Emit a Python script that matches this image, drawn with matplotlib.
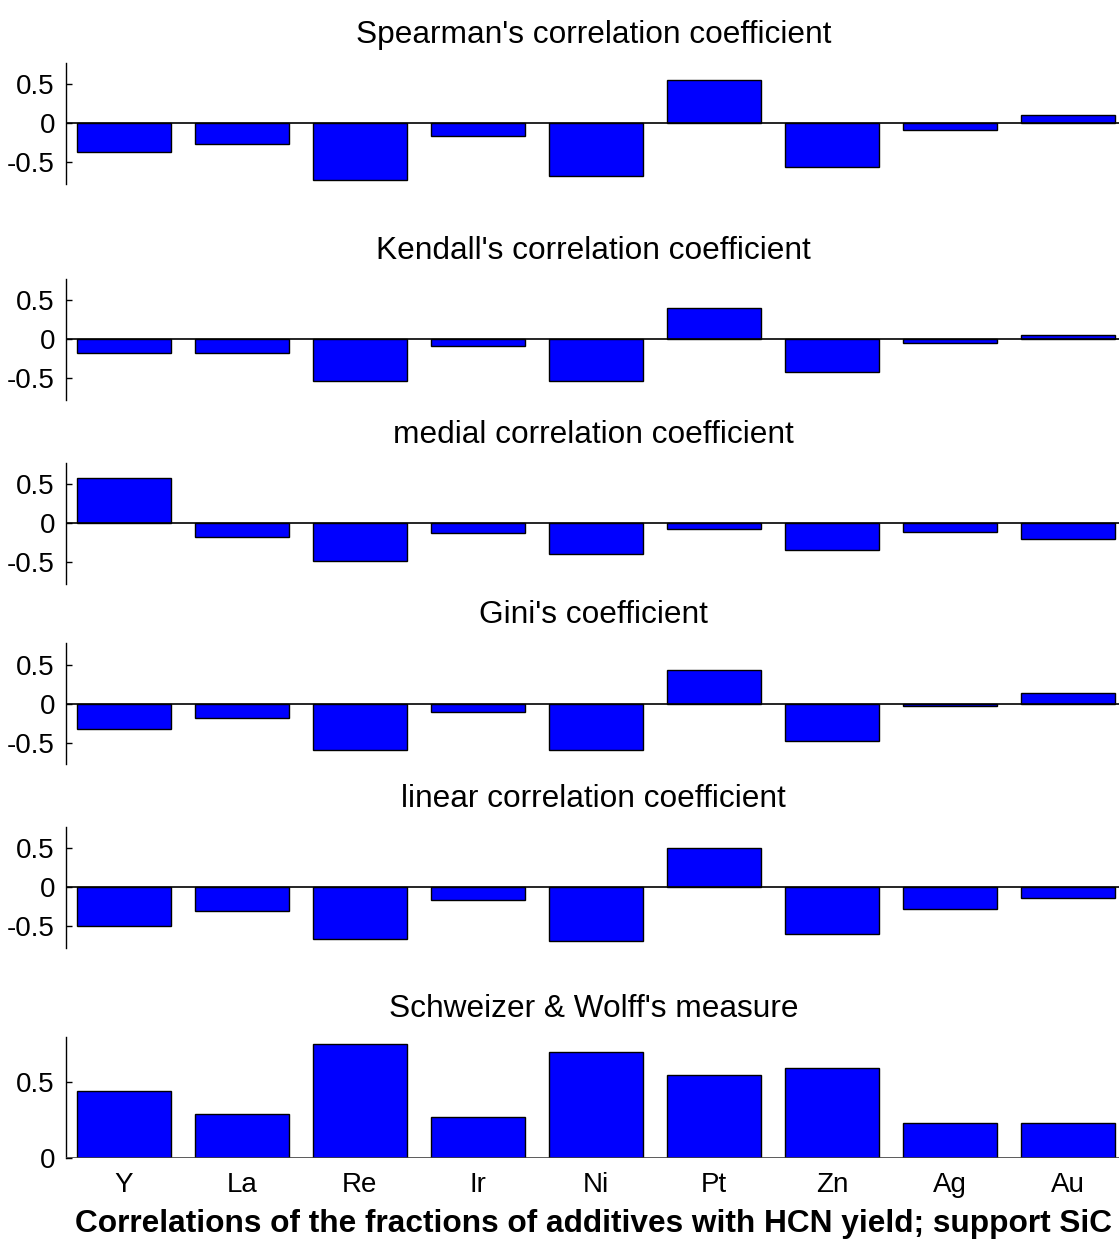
import numpy as np
import matplotlib
matplotlib.use('Agg')
import matplotlib.pyplot as plt

plt.rcParams['font.family'] = ['Liberation Sans', 'DejaVu Sans']

additives = ['Y', 'La', 'Re', 'Ir', 'Ni', 'Pt', 'Zn', 'Ag', 'Au']

titles = ["Spearman's correlation coefficient",
          "Kendall's correlation coefficient",
          "medial correlation coefficient",
          "Gini's coefficient",
          "linear correlation coefficient",
          "Schweizer & Wolff's measure"]

spearman = [-0.37, -0.26, -0.73, -0.16, -0.68, 0.56, -0.56, -0.09, 0.11]
kendall = [-0.17, -0.17, -0.54, -0.09, -0.54, 0.40, -0.42, -0.05, 0.05]
medial = [0.58, -0.17, -0.48, -0.13, -0.39, -0.07, -0.34, -0.11, -0.20]
gini = [-0.32, -0.18, -0.59, -0.11, -0.59, 0.43, -0.48, -0.03, 0.14]
linear = [-0.50, -0.31, -0.67, -0.17, -0.69, 0.50, -0.60, -0.28, -0.14]
schweizer = [0.44, 0.29, 0.75, 0.27, 0.70, 0.55, 0.59, 0.23, 0.23]

series = [spearman, kendall, medial, gini, linear, schweizer]

# axes bottoms in figure fraction
bottoms = [0.8522, 0.6787, 0.5309, 0.3861, 0.2386, 0.0699]
height = 0.0975
left = 0.059
width = 0.943

fig = plt.figure(figsize=(11.19, 12.45), dpi=100)
x = np.arange(1, len(additives) + 1)

for i, vals in enumerate(series):
    ax = fig.add_axes([left, bottoms[i], width, height])
    ax.bar(x, vals, 0.8, color='#0000ff', edgecolor='black', linewidth=1, zorder=2)
    last = (i == len(series) - 1)
    ax.axhline(0, color='#404040' if last else 'black', linewidth=1.2, zorder=3)
    ax.set_xlim(0.51, 9.45)
    if last:
        ax.set_ylim(0, 0.8)
        ax.set_yticks([0, 0.5])
        ax.set_yticklabels(['0', '0.5'])
        ax.set_xticks(x)
        ax.set_xticklabels(additives)
        ax.tick_params(axis='x', length=0, pad=10, labelsize=20)
        ax.set_xlabel('Correlations of the fractions of additives with HCN yield; support SiC',
                      fontsize=22.8, fontweight='bold', labelpad=8)
    else:
        ax.set_ylim(-0.78, 0.78)
        ax.set_yticks([-0.5, 0, 0.5])
        ax.set_yticklabels(['-0.5', '0', '0.5'])
        ax.set_xticks([])
    for s in ['top', 'right', 'bottom']:
        ax.spines[s].set_visible(False)
    ax.spines['left'].set_linewidth(1)
    ax.tick_params(axis='y', direction='in', length=4, width=1, labelsize=20, pad=8)
    ax.set_title(titles[i], fontsize=22.8, pad=14)

fig.savefig('out.png', dpi=100)
